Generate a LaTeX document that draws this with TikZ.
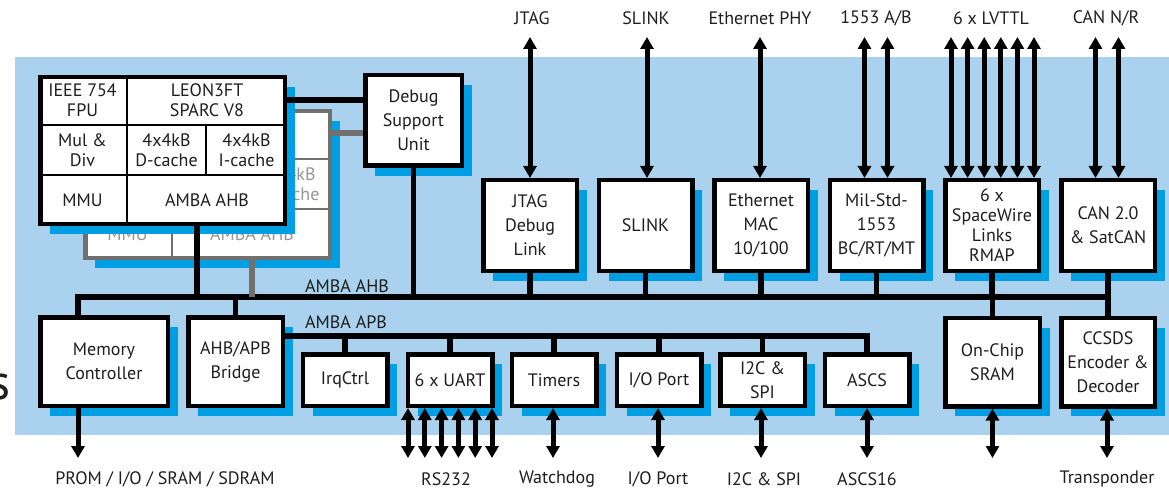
\documentclass[tikz,border=0pt]{standalone}
\usepackage{fontspec}
\setmainfont{PT Sans}
\usetikzlibrary{arrows.meta,shadows,calc}
\definecolor{bgblue}{RGB}{170,210,238}
\definecolor{shblue}{RGB}{0,158,227}
\definecolor{backline}{RGB}{112,112,112}
\definecolor{backtext}{RGB}{150,150,150}
\definecolor{ink}{RGB}{30,30,30}
\newcommand\cpuunit[4]{%
\begin{scope}[shift={#4}]
  \node[cpubox, draw=#2] (#1) at (162.5,150.5) {};
  \draw[#2, line width=2pt] (127,77) -- (127,224) (40,125) -- (285,125) (40,175) -- (285,175) (206,125) -- (206,175);
  \node[ctxt, text=#3] (#1fpu) at (82.5,100) {IEEE 754\\FPU};
  \node[ctxt, text=#3] (#1leon) at (207,100) {LEON3FT\\SPARC V8};
  \node[ctxt, text=#3] (#1mul) at (82.5,150) {Mul \&\\Div};
  \node[ctxt, text=#3] (#1dc) at (166.5,150) {4x4kB\\D-cache};
  \node[ctxt, text=#3] (#1ic) at (246.5,150) {4x4kB\\I-cache};
  \node[ctxt, text=#3] (#1mmu) at (82.5,200.5) {MMU};
  \node[ctxt, text=#3] (#1ahb) at (207,200.5) {AMBA AHB};
\end{scope}}
\begin{document}
\begin{tikzpicture}[x=1pt,y=-1pt,
  txt/.style={font=\fontsize{18}{24}\selectfont, text=ink, align=center, inner sep=0pt},
  ctxt/.style={font=\fontsize{18}{20}\selectfont, align=center, inner sep=0pt},
  sh/.style={general shadow={fill=shblue, shadow xshift=10pt, shadow yshift=-10pt}},
  blk/.style={draw=black, line width=4.5pt, fill=white, txt, sh},
  topbox/.style={blk, minimum width=93.5pt, minimum height=90.5pt},
  apbbox/.style={blk, minimum width=84.5pt, minimum height=51.5pt},
  bigbox/.style={blk, minimum height=88.5pt},
  cpubox/.style={line width=4.5pt, fill=white, minimum width=244.5pt, minimum height=146.5pt, sh},
  bus/.style={line width=5.5pt, draw=black},
  gbus/.style={line width=5.5pt, draw=backline},
  dbl/.style={line width=5pt, {Triangle[length=12pt,width=13pt]}-{Triangle[length=12pt,width=13pt]}},
  sgl/.style={line width=5pt, -{Triangle[length=12pt,width=13pt]}},
  lbl/.style={txt}
]
\useasboundingbox (0,0) rectangle (1169,489);
\fill[bgblue] (15,57) rectangle (1169,435);
\node[anchor=base east, inner sep=0pt, text=ink, font=\fontsize{50}{50}\selectfont] (frag) at (11,399) {s};

% CPU units
\cpuunit{cpub}{backline}{backtext}{(45,34)}
\cpuunit{cpuf}{black}{ink}{(0,0)}

% Debug support unit
\node[blk, minimum width=96.5pt, minimum height=90.5pt] (dsu) at (413.5,120.5) {Debug\\Support\\Unit};

% top peripherals
\node[topbox] (jtagb) at (530,225.5) {JTAG\\Debug\\Link};
\node[topbox] (slinkb) at (645.5,225.5) {SLINK};
\node[topbox] (ethb) at (761,225.5) {Ethernet\\MAC\\10/100};
\node[topbox] (milb) at (876.5,225.5) {Mil-Std-\\1553\\BC/RT/MT};
\node[topbox, font=\fontsize{18}{20}\selectfont] (spwb) at (992,225.5) {6 x\\SpaceWire\\Links\\RMAP};
\node[topbox] (canb) at (1108,225.5) {CAN 2.0\\\& SatCAN};

% lower blocks
\node[bigbox, minimum width=127.5pt] (mem) at (104,361.5) {Memory\\Controller};
\node[bigbox, minimum width=94.5pt] (bridge) at (235.5,361.5) {AHB/APB\\Bridge};
\node[bigbox, minimum width=94.5pt] (sram) at (992.5,362) {On-Chip\\SRAM};
\node[bigbox, minimum width=93.5pt] (ccsds) at (1108,362) {CCSDS\\Encoder \&\\Decoder};

% APB peripherals
\node[apbbox] (irq) at (345,380) {IrqCtrl};
\node[apbbox] (uart) at (450,380) {6 x UART};
\node[apbbox] (tim) at (554,380) {Timers};
\node[apbbox] (iop) at (659,380) {I/O Port};
\node[apbbox] (i2c) at (762.5,380) {I2C \&\\SPI};
\node[apbbox] (ascs) at (867,380) {ASCS};

% bus reference coordinates
\coordinate (ahbY) at (0,297);
\coordinate (apbY) at (0,336);
\coordinate (ahbL) at (78,297);
\coordinate (ahbR) at (1108,297);
\coordinate (tipT) at (0,37);
\coordinate (tipB) at (0,458);

% AMBA AHB
\draw[bus] (mem.north -| ahbL) -- (ahbL) -- (ahbR) -- (ccsds.north);
\draw[bus] (bridge.north) -- (bridge.north |- ahbY);
\draw[bus] (sram.north) -- (sram.north |- ahbY);
\foreach \n in {jtagb,slinkb,ethb,milb,spwb,canb}
  \draw[bus] (\n.south) -- (\n.south |- ahbY);
\draw[bus] (dsu.south) -- (dsu.south |- ahbY);
\draw[bus] ([xshift=34.5pt]cpuf.south) -- ([xshift=34.5pt]cpuf.south |- ahbY);
\draw[gbus] ([xshift=44.5pt]cpub.south) -- ([xshift=44.5pt]cpub.south |- ahbY);
\draw[bus] ([yshift=50.5pt]cpuf.east) -- ([yshift=50.5pt]cpuf.east -| dsu.west);
\draw[gbus] ([yshift=51.5pt]cpub.east) -- ([yshift=51.5pt]cpub.east -| dsu.west);
\node[lbl] (ahblbl) at (347,286) {AMBA AHB};

% AMBA APB
\draw[bus] (bridge.east |- apbY) -| (ascs.north);
\foreach \n in {irq,uart,tim,iop,i2c}
  \draw[bus] (\n.north) -- (\n.north |- apbY);
\node[lbl] (apblbl) at (346,322) {AMBA APB};

% top external arrows
\draw[dbl] (jtagb.north) -- (jtagb.north |- tipT);
\draw[dbl] ([xshift=1.5pt]slinkb.north) -- ([xshift=1.5pt]slinkb.north |- tipT);
\draw[dbl] ([xshift=-1pt]ethb.north) -- ([xshift=-1pt]ethb.north |- tipT);
\foreach \d in {-12,11}
  \draw[dbl] ([xshift=\d pt]milb.north) -- ([xshift=\d pt]milb.north |- tipT);
\foreach \d in {-41,-24.4,-7.8,8.8,25.4,42}
  \draw[dbl] ([xshift=\d pt]spwb.north) -- ([xshift=\d pt]spwb.north |- tipT);
\foreach \d in {-12.5,10.5}
  \draw[dbl] ([xshift=\d pt]canb.north) -- ([xshift=\d pt]canb.north |- tipT);

\node[lbl] (ljtag) at (532,18) {JTAG};
\node[lbl] (lslink) at (646,18) {SLINK};
\node[lbl] (leth) at (760,18) {Ethernet PHY};
\node[lbl] (l1553) at (876,18) {1553 A/B};
\node[lbl] (llvttl) at (991,18) {6 x LVTTL};
\node[lbl] (lcan) at (1106,18) {CAN N/R};

% bottom external arrows
\draw[sgl] (mem.south -| ahbL) -- (ahbL |- tipB);
\foreach \d in {-42,-25.2,-8.4,8.4,25.2,42}
  \draw[dbl] ([xshift=\d pt]uart.south) -- ([xshift=\d pt]uart.south |- tipB);
\draw[dbl] ([xshift=-1pt]tim.south) -- ([xshift=-1pt]tim.south |- tipB);
\draw[dbl] ([xshift=-1pt]iop.south) -- ([xshift=-1pt]iop.south |- tipB);
\draw[dbl] ([xshift=-1.5pt]i2c.south) -- ([xshift=-1.5pt]i2c.south |- tipB);
\draw[dbl] (ascs.south) -- (ascs.south |- tipB);
\draw[dbl] (sram.south) -- (sram.south |- tipB);
\draw[dbl] ([xshift=-1pt]ccsds.south) -- ([xshift=-1pt]ccsds.south |- tipB);

\node[lbl] (lprom) at (165,479) {PROM / I/O / SRAM / SDRAM};
\node[lbl] (lrs) at (446,479) {RS232};
\node[lbl] (lwd) at (557,479) {Watchdog};
\node[lbl] (liop) at (658,479) {I/O Port};
\node[lbl] (li2c) at (764,479) {I2C \& SPI};
\node[lbl] (lascs) at (867,479) {ASCS16};
\node[lbl] (ltr) at (1107,479) {Transponder};
\end{tikzpicture}
\end{document}
